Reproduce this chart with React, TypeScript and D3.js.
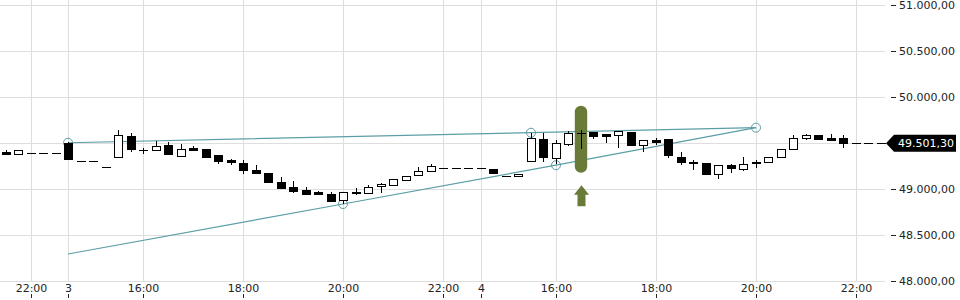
import React from "react";
import * as d3 from "d3";

const day2Times = ["21:30", "21:45", "22:00", "22:15", "22:30"];
const day3Times = ["14:30","14:45","15:00","15:15","15:30","15:45","16:00","16:15","16:30","16:45","17:00","17:15","17:30","17:45","18:00","18:15","18:30","18:45","19:00","19:15","19:30","19:45","20:00","20:15","20:30","20:45","21:00","21:15","21:30","21:45","22:00","22:15","22:30"];
const day4Times = ["14:30","14:45","15:00","15:15","15:30","15:45","16:00","16:15","16:30","16:45","17:00","17:15","17:30","17:45","18:00","18:15","18:30","18:45","19:00","19:15","19:30","19:45","20:00","20:15","20:30","20:45","21:00","21:15","21:30","21:45","22:00","22:15","22:30"];
const times = [
  ...day2Times.map((t) => "2 " + t),
  ...day3Times.map((t) => "3 " + t),
  ...day4Times.map((t) => "4 " + t),
];

const opens = [
  49405, 49380, 49398, 49398, 49398,
  49506, 49304, 49304, 49239, 49354, 49579, 49426, 49424, 49482, 49367, 49449, 49438, 49373, 49318, 49283, 49210, 49174, 49079, 49025, 48992, 48974, 48949, 48884, 48974, 48957, 49033, 49043, 49098, 49152, 49196, 49235, 49235, 49235,
  49235, 49217, 49145, 49141, 49311, 49547, 49337, 49496, 49617, 49623, 49601, 49587, 49623, 49482, 49533, 49547, 49351, 49297, 49283, 49166, 49267, 49221, 49293, 49297, 49351, 49438, 49561, 49587, 49554, 49558, 49501.3, 49501.3, 49501.3,
];
const highs = [
  49427, 49424, 49398, 49398, 49398,
  49512, 49304, 49304, 49239, 49645, 49615, 49452, 49525, 49514, 49492, 49471, 49438, 49373, 49333, 49318, 49264, 49174, 49134, 49093, 49025, 48985, 48974, 48967, 49017, 49047, 49068, 49107, 49150, 49239, 49275, 49235, 49235, 49235,
  49235, 49217, 49145, 49163, 49610, 49610, 49533, 49634, 49645, 49623, 49601, 49630, 49623, 49536, 49558, 49547, 49402, 49318, 49283, 49264, 49278, 49351, 49318, 49348, 49438, 49590, 49604, 49587, 49598, 49590, 49501.3, 49501.3, 49501.3,
];
const lows = [
  49380, 49380, 49398, 49398, 49398,
  49326, 49304, 49304, 49239, 49354, 49420, 49398, 49424, 49387, 49367, 49430, 49354, 49289, 49278, 49180, 49180, 49083, 49017, 48971, 48946, 48946, 48876, 48854, 48949, 48957, 48974, 49043, 49098, 49152, 49196, 49235, 49235, 49235,
  49235, 49174, 49145, 49141, 49311, 49311, 49289, 49482, 49452, 49561, 49511, 49463, 49478, 49420, 49489, 49348, 49272, 49217, 49163, 49120, 49185, 49210, 49246, 49297, 49351, 49438, 49544, 49544, 49539, 49463, 49501.3, 49501.3, 49501.3,
];
const closes = [
  49380, 49424, 49398, 49398, 49398,
  49326, 49304, 49304, 49239, 49587, 49435, 49422, 49471, 49387, 49436, 49430, 49354, 49313, 49300, 49207, 49180, 49083, 49017, 48985, 48946, 48946, 48876, 48967, 48960, 49022, 49058, 49107, 49150, 49196, 49248, 49235, 49235, 49235,
  49235, 49174, 49145, 49163, 49558, 49351, 49503, 49609, 49612, 49576, 49579, 49630, 49478, 49536, 49511, 49370, 49300, 49290, 49163, 49264, 49228, 49278, 49283, 49348, 49438, 49561, 49587, 49544, 49539, 49501.3, 49501.3, 49501.3, 49501.3,
];

const xTickTimes = ["2 22:00", "3 14:30", "3 16:00", "3 18:00", "3 20:00", "3 22:00", "4 14:30", "4 16:00", "4 18:00", "4 20:00", "4 22:00"];
const xTickLabels = ["22:00", "3", "16:00", "18:00", "20:00", "22:00", "4", "16:00", "18:00", "20:00", "22:00"];
const yTicks = [48000, 48500, 49000, 49500, 50000, 50500, 51000];
const yTickShown = [true, true, true, false, true, true, true];
const lastPrice = 49501.3;

const upperLineTimes = ["3 14:30", "4 15:30", "4 20:00"];
const upperLineValues = [49506, 49615, 49670];
const upperLineMarked = [true, true, true];
const lowerLineTimes = ["3 14:30", "3 20:00", "4 16:00", "4 20:00"];
const lowerLineValues = [48297, 48840, 49262, 49670];
const lowerLineMarked = [false, true, true, false];

const highlightTime = "4 16:30";
const highlightLow = 49180;
const highlightHigh = 49909;

const W = 960;
const H = 300;
const FONT = "DejaVu Sans, Verdana, sans-serif";
const TEAL = "#5b9ea5";
const OLIVE = "#6a7b39";
const GRID = "#dedede";

export default function App() {
  const x = d3.scaleBand<string>().domain(times).range([-0.5, 887]).paddingInner(0);
  const bw = x.bandwidth();
  const cx = (t: string) => Math.round((x(t) as number) + bw / 2);
  const y = d3.scaleLinear().domain([48000, 51000]).range([281.3, 5.3]);
  const de = d3.formatLocale({ decimal: ",", thousands: ".", grouping: [3], currency: ["", "€"] });
  const fmt = de.format(",.2f");
  const plotRight = 885;
  const plotBottom = 281;

  const line = d3
    .line<[number, number]>()
    .x((d) => d[0])
    .y((d) => d[1]);

  const upperPts: [number, number][] = upperLineTimes.map((t, i) => [cx(t), y(upperLineValues[i])]);
  const lowerPts: [number, number][] = lowerLineTimes.map((t, i) => [cx(t), y(lowerLineValues[i])]);

  const hx = cx(highlightTime);
  const hTop = y(highlightHigh);
  const hBot = y(highlightLow);
  const arrowTop = hBot + 12.5;

  const yLast = y(lastPrice);

  return (
    <svg
      width={W}
      height={H}
      style={{ position: "absolute", left: 0, top: 0, display: "block", background: "#fff" }}
      fontFamily={FONT}
    >
      <rect x={0} y={0} width={W} height={H} fill="#fff" />
      {/* grid */}
      <g shapeRendering="crispEdges">
        {yTicks.map((v) => (
          <line key={"hg" + v} x1={0} x2={plotRight} y1={Math.round(y(v)) + 0.5} y2={Math.round(y(v)) + 0.5} stroke={GRID} />
        ))}
        {xTickTimes.map((t) => (
          <line key={"vg" + t} x1={cx(t) + 0.5} x2={cx(t) + 0.5} y1={0} y2={plotBottom} stroke={GRID} />
        ))}
      </g>
      {/* trend lines */}
      <path d={line(upperPts) || ""} fill="none" stroke={TEAL} strokeWidth={1.2} />
      <path d={line(lowerPts) || ""} fill="none" stroke={TEAL} strokeWidth={1.2} />
      {upperPts.map((p, i) =>
        upperLineMarked[i] ? <circle key={"uc" + i} cx={p[0]} cy={p[1]} r={4.5} fill="none" stroke={TEAL} strokeWidth={1} /> : null
      )}
      {lowerPts.map((p, i) =>
        lowerLineMarked[i] ? <circle key={"lc" + i} cx={p[0]} cy={p[1]} r={4.5} fill="none" stroke={TEAL} strokeWidth={1} /> : null
      )}
      {/* highlight pill */}
      <rect x={hx - 6.2} y={hTop} width={12.4} height={hBot - hTop} rx={6.2} fill={OLIVE} />
      {/* candles */}
      <g shapeRendering="crispEdges">
        {times.map((t, i) => {
          const c = cx(t);
          const o = opens[i];
          const cl = closes[i];
          const hi = highs[i];
          const lo = lows[i];
          const up = cl > o;
          const yTop = Math.round(y(Math.max(o, cl)));
          const yBot = Math.round(y(Math.min(o, cl)));
          const yHi = Math.round(y(hi));
          const yLo = Math.round(y(lo));
          const els: React.ReactNode[] = [];
          if (yLo - yHi > 0) {
            els.push(<line key="w" x1={c + 0.5} x2={c + 0.5} y1={yHi} y2={yLo + 1} stroke="#000" />);
          }
          if (yBot - yTop < 1) {
            els.push(<line key="b" x1={c - 4} x2={c + 5} y1={yTop + 0.5} y2={yTop + 0.5} stroke="#000" />);
          } else {
            els.push(
              <rect key="b" x={c - 4 + 0.5} y={yTop + 0.5} width={8} height={yBot - yTop} fill={up ? "#fff" : "#000"} stroke="#000" />
            );
          }
          return <g key={t}>{els}</g>;
        })}
      </g>
      {/* arrow */}
      <path
        d={`M${hx + 0.5},${arrowTop} L${hx + 8},${arrowTop + 9.5} L${hx + 4.5},${arrowTop + 9.5} L${hx + 4.5},${arrowTop + 21} L${hx - 3.5},${arrowTop + 21} L${hx - 3.5},${arrowTop + 9.5} L${hx - 7},${arrowTop + 9.5} Z`}
        fill={OLIVE}
      />
      {/* y axis */}
      <g fontSize={11} fill="#222">
        {yTicks.map((v, i) =>
          yTickShown[i] ? (
            <g key={"yt" + v}>
              <line x1={891} x2={896} y1={Math.round(y(v)) + 0.5} y2={Math.round(y(v)) + 0.5} stroke="#222" shapeRendering="crispEdges" />
              <text x={899} y={y(v)} dy="0.35em">
                {fmt(v)}
              </text>
            </g>
          ) : null
        )}
      </g>
      {/* last price label */}
      <path
        d={`M886,${yLast} L894,${yLast - 8.5} L956,${yLast - 8.5} L956,${yLast + 8.5} L894,${yLast + 8.5} Z`}
        fill="#000"
      />
      <text x={898} y={yLast} dy="0.36em" fontSize={11} fill="#fff">
        {fmt(lastPrice)}
      </text>
      {/* x axis */}
      <g fontSize={11} fill="#222">
        {xTickTimes.map((t, i) => (
          <g key={"xt" + t}>
            <text x={cx(t) + 0.5} y={292} textAnchor="middle">
              {xTickLabels[i]}
            </text>
            <line x1={cx(t) + 0.5} x2={cx(t) + 0.5} y1={294} y2={298} stroke="#222" shapeRendering="crispEdges" />
          </g>
        ))}
      </g>
    </svg>
  );
}
